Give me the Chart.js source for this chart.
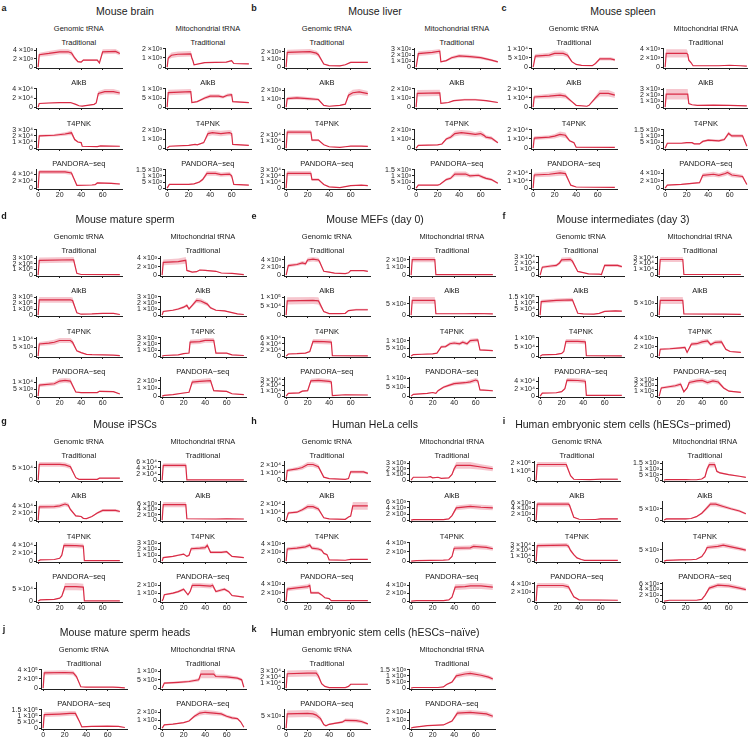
<!DOCTYPE html>
<html>
<head>
<meta charset="utf-8">
<script src="https://cdn.jsdelivr.net/npm/chart.js@4.4.1/dist/chart.umd.min.js"></script>
<style>
  body { margin: 0; background: #fff; }
  #fig { position: relative; width: 748px; height: 739px; overflow: hidden;
         font-family: "Liberation Sans", Arial, sans-serif; color: #1a1a1a; }
  .t { position: absolute; transform: translate(-50%, -50%); white-space: nowrap; line-height: 1; }
  canvas { position: absolute; }
</style>
</head>
<body>
<div id="fig"></div>
<script>
// Each series: e = power of ten of the values, ticks = y tick values,
// pts = [position, mean, half width of the shaded band]
const rowsFull = ["Traditional", "AlkB", "T4PNK", "PANDORA\u2212seq"];
const rowsShort = ["Traditional", "PANDORA\u2212seq"];
const xTicks = [0, 20, 40, 60];

// a  Mouse brain
const brainGenomic = [
  { e: 3, ticks: [0, 2, 4], pts: [[0,0,0],[1,3.0,0.5],[10,3.3,0.6],[20,3.7,0.6],[28,3.7,0.6],[31,3.4,0.6],[34,2.2,0.4],[37,1.3,0.2],[40,1.2,0.2],[42,1.7,0.2],[55,1.7,0.2],[57,1.0,0.2],[60,3.7,0.6],[72,3.8,0.6],[76,3.3,0.5]] },
  { e: 4, ticks: [0, 2, 4], pts: [[0,0,0],[1,0.8,0.1],[10,0.9,0.1],[20,1.0,0.1],[30,1.0,0.1],[35,0.6,0.1],[38,0.3,0.05],[41,0.2,0.05],[52,0.6,0.1],[54,0.9,0.1],[56,3.0,0.5],[62,3.4,0.6],[70,3.4,0.6],[76,3.1,0.5]] },
  { e: 4, ticks: [0, 1, 2, 3], pts: [[0,0,0],[1,2.0,0.2],[15,2.1,0.2],[25,2.3,0.3],[28,2.4,0.3],[31,2.5,0.4],[34,1.4,0.2],[37,1.0,0.1],[40,0.9,0.1],[41,0.3,0.05],[55,0.25,0.05],[58,0.35,0.05],[76,0.3,0.05]] },
  { e: 4, ticks: [0, 2, 4], pts: [[0,0,0],[1,4.7,0.6],[25,4.7,0.6],[31,4.4,0.6],[36,0.8,0.1],[50,0.9,0.1],[53,1.0,0.1],[55,1.5,0.2],[68,1.4,0.2],[76,1.2,0.2]] }
];
const brainMito = [
  { e: 3, ticks: [0, 1, 2], pts: [[0,0,0],[1,1.0,0.2],[4,1.3,0.3],[10,1.4,0.3],[22,1.45,0.3],[23,1.0,0.2],[24,0.7,0.1],[25,0.25,0.05],[35,0.5,0.05],[55,0.55,0.05],[60,0.7,0.1],[62,0.4,0.05],[76,0.35,0.05]] },
  { e: 2, ticks: [0, 5, 10], pts: [[0,0,0],[1,8,1.5],[22,8.5,1.5],[23,2.5,0.3],[28,3.0,0.3],[35,5.0,0.8],[40,6.0,1.0],[48,6.0,1.0],[52,5.5,0.8],[56,6.5,1.0],[60,6.8,1.0],[61,3.0,0.3],[76,2.5,0.3]] },
  { e: 3, ticks: [0, 1, 2], pts: [[0,0,0],[2,0.2,0.03],[20,0.3,0.05],[26,0.4,0.05],[28,0.35,0.05],[34,0.6,0.1],[38,1.6,0.3],[42,1.7,0.3],[50,1.6,0.3],[58,1.7,0.3],[60,1.6,0.3],[61,0.4,0.05],[76,0.3,0.05]] },
  { e: 2, ticks: [0, 5, 10, 15], pts: [[0,0,0],[2,3,0.3],[20,3,0.4],[25,3.5,0.4],[30,5,0.8],[33,7,1],[37,12,2],[45,12,2],[50,11,1.8],[58,11.5,1.8],[60,10,1.5],[62,3,0.4],[76,2.5,0.3]] }
];

// b  Mouse liver
const liverGenomic = [
  { e: 3, ticks: [0, 1, 2], pts: [[0,0,0],[1,1.9,0.35],[22,2.0,0.35],[28,1.8,0.3],[30,1.6,0.3],[35,0.4,0.05],[40,0.2,0.03],[50,0.15,0.03],[55,0.3,0.05],[60,0.6,0.08],[76,0.6,0.08]] },
  { e: 3, ticks: [0, 1, 2], pts: [[0,0,0],[1,1.0,0.2],[10,1.1,0.2],[20,1.0,0.2],[30,0.9,0.15],[35,0.2,0.03],[40,0.1,0.02],[50,0.2,0.03],[55,0.35,0.05],[58,1.4,0.3],[62,1.7,0.35],[68,1.8,0.35],[76,1.6,0.3]] },
  { e: 4, ticks: [0, 1, 2], pts: [[0,0,0],[1,2.4,0.35],[23,2.4,0.35],[24,1.2,0.15],[30,1.2,0.15],[35,0.5,0.05],[40,0.2,0.03],[50,0.1,0.02],[55,0.2,0.03],[60,0.3,0.04],[70,0.3,0.04],[76,0.25,0.04]] },
  { e: 4, ticks: [0, 1, 2, 3], pts: [[0,0,0],[1,2.4,0.4],[23,2.4,0.4],[24,1.4,0.2],[30,1.4,0.2],[35,0.6,0.08],[40,0.2,0.03],[50,0.1,0.02],[60,0.4,0.05],[70,0.5,0.06],[76,0.4,0.05]] }
];
const liverMito = [
  { e: 2, ticks: [0, 1, 2, 3], pts: [[0,0,0],[2,2.3,0.4],[15,2.5,0.4],[22,2.7,0.4],[23,0.9,0.1],[28,1.1,0.15],[33,1.6,0.25],[40,1.9,0.3],[50,1.8,0.3],[60,1.6,0.25],[70,1.2,0.2],[76,0.9,0.15]] },
  { e: 2, ticks: [0, 1, 2], pts: [[0,0,0],[1,1.5,0.35],[22,1.55,0.35],[23,0.4,0.05],[30,0.5,0.06],[35,0.7,0.08],[45,0.8,0.1],[55,0.8,0.1],[65,0.7,0.08],[76,0.5,0.06]] },
  { e: 3, ticks: [0, 1, 2], pts: [[0,0,0],[2,0.3,0.05],[20,0.35,0.05],[24,0.45,0.06],[28,1.0,0.15],[32,1.2,0.2],[36,1.6,0.3],[42,1.7,0.3],[50,1.6,0.3],[55,1.5,0.25],[60,1.6,0.3],[63,1.4,0.25],[65,1.2,0.2],[70,1.1,0.2],[76,0.6,0.1]] },
  { e: 2, ticks: [0, 5, 10, 15], pts: [[0,0,0],[2,2.5,0.3],[20,2.5,0.3],[22,3,0.4],[28,7,1],[32,8,1.2],[36,11.5,2],[46,11.5,2],[50,10,1.5],[58,10.5,1.5],[62,9,1.3],[65,8,1.2],[70,7,1],[76,4,0.6]] }
];

// c  Mouse spleen
const spleenGenomic = [
  { e: 3, ticks: [0, 5, 10], pts: [[0,0,0],[2,6,1.2],[15,6.5,1.3],[20,7.5,1.5],[28,7.5,1.5],[32,6.5,1.3],[36,3,0.5],[40,1.5,0.2],[45,1,0.15],[55,0.8,0.1],[58,2,0.3],[62,4.5,0.9],[72,4.5,0.9],[76,4,0.8]] },
  { e: 4, ticks: [0, 1, 2], pts: [[0,0,0],[1,1.1,0.2],[15,1.2,0.25],[25,1.3,0.3],[30,1.2,0.25],[36,0.6,0.1],[40,0.2,0.03],[50,0.1,0.02],[52,0.2,0.03],[58,1.0,0.2],[62,1.5,0.35],[70,1.5,0.35],[76,1.3,0.3]] },
  { e: 4, ticks: [0, 1, 2], pts: [[0,0,0],[1,1.1,0.2],[15,1.2,0.2],[20,1.3,0.25],[25,1.5,0.3],[30,1.4,0.3],[34,0.8,0.1],[38,0.6,0.08],[40,0.1,0.02],[76,0.08,0.02]] },
  { e: 4, ticks: [0, 1, 2], pts: [[0,0,0],[1,1.8,0.3],[15,1.9,0.35],[25,2.1,0.4],[30,2.0,0.35],[35,0.4,0.05],[40,0.15,0.02],[76,0.1,0.02]] }
];
const spleenMito = [
  { e: 3, ticks: [0, 2, 4], pts: [[0,0,0],[1,3.0,0.9],[20,3.0,0.9],[21,2.8,0.6],[22,1.5,0.3],[24,1.0,0.2],[26,0.3,0.05],[50,0.3,0.05],[60,0.4,0.06],[70,0.3,0.05],[76,0.2,0.04]] },
  { e: 3, ticks: [0, 1, 2, 3], pts: [[0,0,0],[1,2.2,0.9],[21,2.2,0.9],[22,0.6,0.1],[25,0.4,0.05],[30,0.3,0.05],[45,0.35,0.05],[60,0.3,0.05],[76,0.2,0.04]] },
  { e: 2, ticks: [0, 5, 10, 15], pts: [[0,0,0],[2,4,0.5],[15,4,0.5],[20,4.5,0.6],[25,4.5,0.6],[27,3.5,0.5],[32,3.5,0.5],[35,5.5,0.8],[40,6.5,1],[50,6,1],[55,7,1],[59,12,1.5],[62,10,1.3],[72,10,1.3],[76,1.5,0.3]] },
  { e: 2, ticks: [0, 2, 4], pts: [[0,0,0],[2,0.8,0.1],[15,1.0,0.12],[25,1.3,0.15],[32,1.5,0.2],[35,3.5,0.6],[45,3.8,0.7],[50,3.5,0.6],[56,4.0,0.7],[58,4.3,0.7],[62,3.6,0.6],[72,3.2,0.5],[76,1.0,0.2]] }
];

// d  Mouse mature sperm
const spermGenomic = [
  { e: 5, ticks: [0, 1, 2, 3], pts: [[0,0,0],[1,2.6,0.5],[33,2.7,0.5],[36,0.3,0.05],[40,0.1,0.02],[76,0.08,0.02]] },
  { e: 5, ticks: [0, 1, 2, 3], pts: [[0,0,0],[1,2.6,0.5],[30,2.6,0.5],[32,2.5,0.5],[36,0.4,0.06],[40,0.15,0.03],[50,0.2,0.04],[60,0.3,0.05],[70,0.3,0.05],[76,0.1,0.02]] },
  { e: 3, ticks: [0, 5, 10], pts: [[0,0,0],[1,7,1.2],[10,7.5,1.3],[15,8,1.4],[20,9,1.5],[30,9,1.5],[32,8,1.3],[36,3,0.5],[40,2,0.3],[45,1,0.15],[50,0.8,0.1],[60,0.7,0.1],[70,0.6,0.1],[76,0.3,0.05]] },
  { e: 3, ticks: [0, 5, 10], pts: [[0,0,0],[1,8,1.3],[15,9,1.5],[20,11,1.8],[25,11.5,1.8],[30,11,1.8],[35,3,0.5],[40,2.5,0.4],[55,2.6,0.4],[57,3.5,0.5],[70,3.3,0.5],[76,1.5,0.2]] }
];
const spermMito = [
  { e: 3, ticks: [0, 2, 4], pts: [[0,0,0],[1,3.0,0.7],[15,3.2,0.7],[22,3.5,0.8],[23,1.1,0.15],[28,0.7,0.1],[32,0.8,0.1],[35,1.2,0.15],[40,1.1,0.15],[50,0.9,0.1],[55,0.5,0.08],[65,0.4,0.06],[76,0.1,0.02]] },
  { e: 3, ticks: [0, 1, 2, 3], pts: [[0,0,0],[1,0.6,0.1],[10,0.8,0.1],[15,1.0,0.15],[20,1.3,0.2],[23,1.6,0.25],[25,1.0,0.15],[28,1.6,0.25],[32,2.4,0.4],[36,2.3,0.4],[42,1.8,0.3],[45,1.2,0.2],[50,0.8,0.1],[58,0.7,0.1],[65,0.4,0.06],[70,0.2,0.04],[76,0.1,0.02]] },
  { e: 2, ticks: [0, 1, 2, 3], pts: [[0,0,0],[2,0.1,0.02],[15,0.2,0.03],[20,0.4,0.05],[25,0.5,0.06],[26,2.3,0.4],[35,2.4,0.4],[40,2.6,0.4],[48,2.6,0.4],[50,0.5,0.06],[60,0.5,0.06],[65,0.2,0.03],[76,0.1,0.02]] },
  { e: 3, ticks: [0, 1, 2], pts: [[0,0,0],[2,0.1,0.02],[10,0.2,0.03],[20,0.4,0.05],[25,0.5,0.06],[28,1.8,0.3],[35,1.9,0.3],[45,2.0,0.35],[48,0.7,0.1],[55,0.65,0.1],[60,0.6,0.08],[65,0.3,0.05],[76,0.2,0.03]] }
];

// e  Mouse MEFs (day 0)
const mefGenomic = [
  { e: 3, ticks: [0, 2, 4], pts: [[0,0,0],[2,2.5,0.4],[10,2.8,0.4],[15,3.2,0.5],[18,3.0,0.5],[20,4.0,0.6],[25,4.2,0.6],[30,4.0,0.6],[31,3.6,0.5],[35,1.0,0.15],[40,0.8,0.1],[45,0.5,0.06],[55,0.4,0.05],[58,0.6,0.08],[60,1.2,0.15],[72,1.2,0.15],[76,1.0,0.12]] },
  { e: 4, ticks: [0, 5, 10], pts: [[0,0,0],[1,8,2],[25,8.2,2],[30,8,2],[35,2,0.4],[40,0.8,0.1],[50,0.8,0.1],[55,1,0.15],[58,2.5,0.4],[65,3,0.5],[76,3,0.5]] },
  { e: 4, ticks: [0, 2, 4, 6], pts: [[0,0,0],[2,0.7,0.1],[10,0.8,0.1],[18,1,0.15],[22,1.5,0.2],[25,4.8,0.8],[35,4.7,0.8],[42,4.6,0.8],[43,0.15,0.02],[76,0.1,0.02]] },
  { e: 4, ticks: [0, 1, 2, 3], pts: [[0,0,0],[2,0.5,0.08],[12,0.6,0.1],[15,0.9,0.12],[20,1.0,0.15],[23,2.8,0.4],[30,2.9,0.45],[40,2.7,0.4],[42,2.6,0.4],[43,0.1,0.02],[55,0.25,0.04],[76,0.2,0.03]] }
];
const mefMito = [
  { e: 3, ticks: [0, 1, 2], pts: [[0,0,0],[1,2.0,0.35],[22,2.0,0.35],[23,0.05,0.01],[76,0.05,0.01]] },
  { e: 2, ticks: [0, 5], pts: [[0,0,0],[1,6.5,1.5],[22,6.5,1.5],[23,0.6,0.1],[50,0.6,0.1],[60,0.7,0.1],[76,0.5,0.08]] },
  { e: 1, ticks: [0, 5, 10], pts: [[0,0,0],[2,1,0.15],[10,1.2,0.15],[20,1.5,0.2],[24,1.9,0.25],[28,6,0.8],[32,6.2,0.8],[36,8,1.1],[40,8.5,1.2],[45,8,1.1],[48,9,1.2],[52,8,1.1],[55,10,1.3],[62,10.5,1.3],[64,4,0.5],[76,3.5,0.4]] },
  { e: 1, ticks: [0, 5, 10], pts: [[0,0,0],[2,1,0.15],[15,1.5,0.2],[20,2,0.3],[23,1.5,0.2],[25,3,0.4],[30,5,0.7],[35,6,0.8],[40,7,1],[50,7.5,1],[55,8,1.1],[60,9,1.2],[62,8.5,1.2],[64,3.5,0.5],[76,3,0.4]] }
];

// f  Mouse intermediates (day 3)
const day3Genomic = [
  { e: 4, ticks: [0, 1, 2, 3], pts: [[0,0,0],[2,1.3,0.2],[10,1.5,0.25],[15,1.6,0.25],[18,2.0,0.3],[20,2.5,0.4],[28,2.6,0.4],[30,2.3,0.35],[35,0.6,0.08],[40,0.4,0.05],[45,0.2,0.03],[55,0.15,0.02],[57,0.1,0.02],[60,1.6,0.25],[72,1.6,0.25],[76,1.4,0.2]] },
  { e: 4, ticks: [0, 5, 10, 15], pts: [[0,0,0],[1,11,1.5],[15,12,1.6],[30,12.5,1.6],[35,1.5,0.2],[40,1,0.15],[50,0.8,0.1],[55,1.5,0.2],[60,3,0.4],[70,3.5,0.5],[76,3.2,0.4]] },
  { e: 4, ticks: [0, 5, 10], pts: [[0,0,0],[2,0.7,0.1],[15,1,0.15],[20,1.5,0.2],[22,2.5,0.3],[24,8,1.3],[35,8,1.3],[42,7.8,1.3],[43,0.2,0.03],[76,0.15,0.02]] },
  { e: 4, ticks: [0, 2, 4], pts: [[0,0,0],[2,0.8,0.1],[15,0.9,0.12],[20,1.2,0.15],[23,2,0.3],[25,4.3,0.6],[35,4.2,0.6],[42,4.0,0.6],[43,0.2,0.03],[76,0.2,0.03]] }
];
const day3Mito = [
  { e: 4, ticks: [0, 1, 2, 3], pts: [[0,0,0],[1,2.7,0.45],[22,2.7,0.45],[23,0.1,0.02],[76,0.1,0.02]] },
  { e: 3, ticks: [0, 5], pts: [[0,0,0],[1,6.3,1.5],[22,6.3,1.5],[23,0.5,0.08],[60,0.4,0.06],[76,0.3,0.05]] },
  { e: 2, ticks: [0, 2, 4], pts: [[0,0,0],[1,1.5,0.2],[10,1.6,0.2],[20,1.8,0.25],[24,1.9,0.25],[26,0.8,0.1],[30,2.6,0.4],[35,2.7,0.4],[40,3.1,0.45],[45,3.3,0.5],[48,2.5,0.35],[52,3.0,0.45],[58,3.1,0.45],[62,1.5,0.2],[66,1.0,0.12],[76,0.8,0.1]] },
  { e: 2, ticks: [0, 1, 2, 3], pts: [[0,0,0],[2,1.5,0.2],[15,1.9,0.3],[20,2.2,0.35],[23,0.8,0.1],[26,1.5,0.2],[28,2.5,0.4],[35,2.8,0.4],[40,2.9,0.45],[45,2.5,0.4],[50,2.8,0.4],[55,2.6,0.4],[60,1.5,0.2],[65,0.9,0.12],[76,0.7,0.1]] }
];

// g  Mouse iPSCs
const ipscGenomic = [
  { e: 4, ticks: [0, 5], pts: [[0,0,0],[1,6.5,1],[20,6.5,1],[25,6.3,1],[30,5.5,0.9],[35,1,0.15],[38,0.3,0.05],[55,0.3,0.05],[57,0.8,0.2],[76,0.8,0.2]] },
  { e: 4, ticks: [0, 2, 4], pts: [[0,0,0],[1,3.7,0.6],[15,3.8,0.6],[20,4.0,0.6],[25,4.5,0.6],[28,4.2,0.6],[30,3.0,0.4],[35,1.2,0.2],[40,1.0,0.15],[42,0.5,0.08],[45,0.4,0.06],[50,1.0,0.15],[55,2.0,0.3],[60,2.7,0.4],[72,2.7,0.4],[76,2.4,0.35]] },
  { e: 4, ticks: [0, 2, 4], pts: [[0,0,0],[2,0.3,0.05],[15,0.4,0.06],[20,0.7,0.1],[22,1.5,0.2],[24,4.0,0.6],[35,3.9,0.6],[42,3.8,0.6],[43,0.1,0.02],[76,0.1,0.02]] },
  { e: 4, ticks: [0, 5], pts: [[0,0,0],[2,0.5,0.08],[15,0.7,0.1],[20,1.2,0.2],[22,2,0.3],[25,6,1.5],[35,6,1.5],[42,5.8,1.4],[43,0.1,0.02],[76,0.1,0.02]] }
];
const ipscMito = [
  { e: 4, ticks: [0, 2, 4, 6], pts: [[0,0,0],[1,4.8,0.7],[22,4.8,0.7],[23,0.1,0.02],[76,0.1,0.02]] },
  { e: 3, ticks: [0, 2, 4, 6], pts: [[0,0,0],[1,5.8,1],[22,5.8,1],[23,0.5,0.08],[50,0.4,0.06],[60,0.5,0.08],[76,0.4,0.06]] },
  { e: 2, ticks: [0, 1, 2, 3], pts: [[0,0,0],[1,0.6,0.1],[10,0.8,0.1],[15,1.0,0.15],[20,1.2,0.15],[23,0.8,0.1],[25,1.0,0.15],[27,2.1,0.3],[35,2.2,0.3],[40,2.3,0.35],[42,2.7,0.4],[45,1.5,0.2],[55,1.5,0.2],[60,1.6,0.2],[65,0.8,0.1],[76,0.6,0.08]] },
  { e: 2, ticks: [0, 1, 2], pts: [[0,0,0],[1,0.3,0.05],[2,0.8,0.1],[10,1.0,0.12],[15,1.2,0.15],[20,1.5,0.2],[24,0.8,0.1],[26,1.2,0.15],[28,2.0,0.3],[35,2.0,0.3],[45,1.9,0.3],[47,2.0,0.3],[50,1.2,0.15],[55,1.4,0.2],[58,1.5,0.2],[62,1.2,0.15],[65,0.7,0.1],[76,0.5,0.08]] }
];

// h  Human HeLa cells
const helaGenomic = [
  { e: 4, ticks: [0, 1, 2], pts: [[0,0,0],[1,1.3,0.2],[10,1.5,0.25],[15,1.7,0.3],[20,2.1,0.35],[25,2.1,0.35],[30,1.8,0.3],[35,0.4,0.05],[40,0.2,0.03],[55,0.1,0.02],[58,0.2,0.03],[60,1.1,0.2],[72,1.1,0.2],[76,0.9,0.15]] },
  { e: 4, ticks: [0, 1, 2], pts: [[0,0,0],[2,0.9,0.15],[10,1.0,0.15],[15,1.3,0.2],[20,1.7,0.3],[25,1.7,0.3],[30,1.4,0.25],[35,0.3,0.05],[40,0.15,0.02],[55,0.1,0.02],[58,0.4,0.06],[60,0.5,0.08],[62,1.8,0.5],[76,1.8,0.5]] },
  { e: 3, ticks: [0, 2, 4], pts: [[0,0,0],[1,2.8,0.4],[10,3.0,0.4],[18,3.3,0.45],[22,3.7,0.5],[24,3.0,0.4],[30,2.8,0.4],[33,2.5,0.35],[35,1.8,0.25],[38,1.5,0.2],[40,0.3,0.05],[55,0.2,0.03],[60,0.4,0.05],[76,0.4,0.05]] },
  { e: 3, ticks: [0, 2, 4], pts: [[0,0,0],[1,2.9,0.5],[10,3.2,0.5],[20,3.5,0.55],[22,3.8,0.6],[23,2.0,0.3],[30,2.0,0.3],[33,1.5,0.2],[36,0.8,0.1],[40,0.6,0.08],[42,0.1,0.02],[76,0.1,0.02]] }
];
const helaMito = [
  { e: 3, ticks: [0, 1, 2, 3], pts: [[0,0,0],[2,0.5,0.05],[15,0.5,0.05],[18,0.6,0.06],[20,0.4,0.05],[25,0.5,0.05],[28,0.3,0.04],[35,0.4,0.05],[38,1.0,0.15],[40,2.0,0.4],[42,2.6,0.6],[55,2.6,0.6],[65,2.3,0.5],[76,2.0,0.45]] },
  { e: 3, ticks: [0, 2, 4, 6], pts: [[0,0,0],[2,0.2,0.03],[30,0.2,0.03],[35,0.4,0.06],[38,1.5,0.3],[42,4.0,0.8],[55,4.5,0.8],[65,4.2,0.8],[76,4.0,0.8]] },
  { e: 3, ticks: [0, 2, 4], pts: [[0,0,0],[5,0.1,0.02],[30,0.2,0.03],[35,0.3,0.05],[38,1.0,0.15],[40,2.8,0.5],[55,2.9,0.5],[58,3.2,0.55],[70,3.0,0.5],[76,2.7,0.45]] },
  { e: 3, ticks: [0, 2, 4], pts: [[0,0,0],[5,0.1,0.02],[30,0.1,0.02],[35,0.3,0.05],[38,1.0,0.15],[41,3.5,0.7],[50,3.6,0.7],[55,3.8,0.75],[65,3.8,0.75],[76,3.5,0.7]] }
];

// i  Human embryonic stem cells (primed)
const primedGenomic = [
  { e: 5, ticks: [0, 1, 2], pts: [[0,0,0],[1,1.8,0.3],[28,1.8,0.3],[32,0.5,0.08],[35,0.1,0.02],[50,0.05,0.01],[60,0.1,0.1],[76,0.1,0.12]] },
  { e: 3, ticks: [0, 2, 4, 6], pts: [[0,0,0],[1,5.5,0.8],[30,5.5,0.8],[31,5.2,0.8],[35,1,0.15],[40,0.3,0.05],[55,0.2,0.04],[60,0.4,0.3],[76,0.4,0.3]] },
  { e: 4, ticks: [0, 1, 2, 3], pts: [[0,0,0],[1,2.9,0.4],[28,3.0,0.4],[30,2.8,0.4],[32,2.0,0.3],[35,1.2,0.15],[38,0.6,0.08],[42,0.3,0.04],[45,0.15,0.02],[76,0.15,0.02]] },
  { e: 3, ticks: [0, 2, 4], pts: [[0,0,0],[1,3.6,0.6],[25,3.6,0.6],[30,3.3,0.55],[35,1.0,0.15],[40,0.3,0.05],[76,0.2,0.03]] }
];
const primedMito = [
  { e: 2, ticks: [0, 5, 10, 15], pts: [[0,0,0],[2,0.5,0.5],[20,0.5,0.5],[25,0.3,0.1],[30,0.3,0.1],[35,1,0.2],[38,3,0.5],[40,10,2],[42,14,2.5],[47,14,2.5],[49,8,1],[52,6.5,0.8],[60,5,0.6],[70,3.5,0.4],[76,2.5,0.3]] },
  { e: 2, ticks: [0, 5], pts: [[0,0,0],[2,0.5,0.3],[20,0.5,0.3],[25,0.7,0.1],[30,1.5,0.2],[35,3,0.4],[40,5.5,0.8],[43,7,1],[48,7,1],[55,6,0.8],[62,5,0.6],[70,4,0.5],[76,2.8,0.4]] },
  { e: 2, ticks: [0, 5], pts: [[0,0,0],[2,0.3,0.05],[15,0.5,0.06],[25,0.6,0.08],[30,0.8,0.1],[35,2,0.3],[38,4,0.6],[40,6,0.9],[50,6.5,1],[55,7,1],[60,6.5,1],[70,5.5,0.8],[76,4.8,0.7]] },
  { e: 2, ticks: [0, 2, 4, 6], pts: [[0,0,0],[5,0.3,0.05],[30,0.3,0.05],[35,0.6,0.1],[38,2,0.3],[42,4.5,0.7],[50,5.5,0.8],[60,5.3,0.8],[70,4.5,0.7],[76,4,0.6]] }
];

// j  Mouse mature sperm heads
const headsGenomic = [
  { e: 5, ticks: [0, 2, 4], pts: [[0,0,0],[1,3.3,0.5],[20,3.4,0.5],[28,3.3,0.5],[31,2.5,0.4],[35,0.3,0.05],[40,0.2,0.03],[65,0.2,0.03],[70,0.15,0.02],[76,0.05,0.01]] },
  { e: 4, ticks: [0, 5, 10, 15], pts: [[0,0,0],[1,11,2],[15,11.5,2],[25,12,2],[30,12,2],[34,5,0.8],[36,1,0.15],[45,1.5,0.2],[60,1.6,0.2],[70,1.4,0.2],[76,0.5,0.08]] }
];
const headsMito = [
  { e: 2, ticks: [0, 5, 10], pts: [[0,0,0],[2,3,0.6],[15,3.5,0.7],[25,4,0.8],[34,5,1],[36,8.5,2.5],[48,8.5,2.5],[50,7,1.2],[60,6.8,1.2],[70,6,1],[74,5,0.9],[76,0.5,0.1]] },
  { e: 2, ticks: [0, 1, 2], pts: [[0,0,0],[2,0.4,0.05],[10,0.5,0.06],[20,0.7,0.08],[25,0.9,0.1],[30,1.5,0.2],[35,1.9,0.3],[40,2.0,0.3],[48,1.9,0.3],[55,1.8,0.25],[60,1.5,0.2],[65,1.3,0.2],[70,1.2,0.15],[73,0.8,0.1],[76,0.1,0.02]] }
];

// k  Human embryonic stem cells (naive)
const naiveGenomic = [
  { e: 4, ticks: [0, 1, 2, 3], pts: [[0,0,0],[1,2.6,0.6],[20,2.7,0.6],[28,2.7,0.6],[30,2.2,0.5],[33,0.8,0.15],[36,0.3,0.05],[40,0.1,0.02],[55,0.1,0.02],[58,0.3,0.05],[60,0.7,0.1],[76,0.7,0.1]] },
  { e: 3, ticks: [0, 5], pts: [[0,0,0],[1,6,1.5],[20,6.2,1.5],[25,6,1.5],[28,5.5,1.3],[32,4,0.9],[35,1.5,0.3],[37,1.0,0.2],[40,1.6,0.3],[45,2,0.4],[52,2.5,0.5],[55,3.3,0.8],[65,3.2,0.8],[70,2.8,0.7],[76,1.8,0.4]] }
];
const naiveMito = [
  { e: 2, ticks: [0, 5, 10, 15], pts: [[0,0,0],[2,0.5,0.1],[25,0.5,0.1],[30,1,0.15],[33,3,0.5],[38,5,0.8],[42,10,1.8],[50,11.5,2],[55,12,2.2],[65,10.5,1.8],[72,9,1.6],[76,7.5,1.4]] },
  { e: 2, ticks: [0, 1, 2], pts: [[0,0,0],[2,0.1,0.02],[15,0.3,0.04],[30,0.4,0.05],[38,0.9,0.12],[43,1.9,0.3],[55,2.0,0.3],[70,1.8,0.3],[76,1.5,0.25]] }
];

// panel layout: column, title line y, x pixel of position 0 for both plots
const panels = [
  { id: "a", title: "Mouse brain", col: 0, ty: 11, gx: 38, mx: 167, rows: rowsFull, gen: brainGenomic, mito: brainMito },
  { id: "b", title: "Mouse liver", col: 1, ty: 11, gx: 286, mx: 416, rows: rowsFull, gen: liverGenomic, mito: liverMito },
  { id: "c", title: "Mouse spleen", col: 2, ty: 11, gx: 533, mx: 665, rows: rowsFull, gen: spleenGenomic, mito: spleenMito },
  { id: "d", title: "Mouse mature sperm", col: 0, ty: 219, gx: 38, mx: 162, rows: rowsFull, gen: spermGenomic, mito: spermMito },
  { id: "e", title: "Mouse MEFs (day 0)", col: 1, ty: 219, gx: 286, mx: 411, rows: rowsFull, gen: mefGenomic, mito: mefMito },
  { id: "f", title: "Mouse intermediates (day 3)", col: 2, ty: 219, gx: 540, mx: 659, rows: rowsFull, gen: day3Genomic, mito: day3Mito },
  { id: "g", title: "Mouse iPSCs", col: 0, ty: 424, gx: 38, mx: 162, rows: rowsFull, gen: ipscGenomic, mito: ipscMito },
  { id: "h", title: "Human HeLa cells", col: 1, ty: 424, gx: 286, mx: 411, rows: rowsFull, gen: helaGenomic, mito: helaMito },
  { id: "i", title: "Human embryonic stem cells (hESCs\u2212primed)", col: 2, ty: 424, gx: 536, mx: 664, rows: rowsFull, gen: primedGenomic, mito: primedMito },
  { id: "j", title: "Mouse mature sperm heads", col: 0, ty: 632, gx: 43, mx: 162, rows: rowsShort, gen: headsGenomic, mito: headsMito },
  { id: "k", title: "Human embryonic stem cells (hESCs\u2212na\u00efve)", col: 1, ty: 632, gx: 286, mx: 411, rows: rowsShort, gen: naiveGenomic, mito: naiveMito }
];

const colLeft = [0, 250, 500];
const colCenter = [125, 375, 623];
const LINE = "#d92b45";
const BAND = "rgba(234, 120, 138, 0.42)";
const AXIS = "#222";
const FONT = "'Liberation Sans', Arial, sans-serif";

const PLOT_W = 86, PLOT_H = 20, YW = 40, PADT = 8, XH = 12, PADR = 2;
const XMIN = -2, XMAX = 78;
const PX = PLOT_W / (XMAX - XMIN);
const ROW_STEP = 40.3;

const fig = document.getElementById("fig");

function addText(str, x, y, size, bold) {
  const d = document.createElement("div");
  d.className = "t";
  d.textContent = str;
  d.style.left = x + "px";
  d.style.top = y + "px";
  d.style.fontSize = size + "px";
  if (bold) d.style.fontWeight = "bold";
  fig.appendChild(d);
}

const SUP = { "0": "\u2070", "1": "\u00b9", "2": "\u00b2", "3": "\u00b3", "4": "\u2074", "5": "\u2075", "6": "\u2076" };
function sci(v) {
  if (Math.abs(v) < 1e-9) return "0";
  const ex = Math.floor(Math.log10(v) + 1e-9);
  const m = +(v / Math.pow(10, ex)).toFixed(2);
  return m + " \u00d710" + String(ex).split("").map(c => SUP[c]).join("");
}

function makeChart(s, x0, base, isBottom) {
  const cv = document.createElement("canvas");
  cv.width = YW + PLOT_W + PADR;
  cv.height = PADT + PLOT_H + XH;
  cv.style.left = (x0 + XMIN * PX - YW) + "px";
  cv.style.top = (base + 1 - PLOT_H - PADT) + "px";
  fig.appendChild(cv);

  const hi = s.pts.map(p => ({ x: p[0], y: p[1] + p[2] }));
  const lo = s.pts.map(p => ({ x: p[0], y: Math.max(0, p[1] - p[2]) }));
  const mid = s.pts.map(p => ({ x: p[0], y: p[1] }));
  const dataMax = Math.max(...hi.map(d => d.y));
  const yMax = Math.max(dataMax * 1.05, s.ticks[s.ticks.length - 1] * 1.04);

  new Chart(cv.getContext("2d"), {
    type: "line",
    data: {
      datasets: [
        { data: mid, borderColor: LINE, borderWidth: 1.2, pointRadius: 0, fill: false, tension: 0 },
        { data: hi, borderWidth: 0, borderColor: "transparent", pointRadius: 0, fill: false },
        { data: lo, borderWidth: 0, borderColor: "transparent", pointRadius: 0, fill: "-1", backgroundColor: BAND }
      ]
    },
    options: {
      responsive: false,
      animation: false,
      devicePixelRatio: 1,
      events: [],
      layout: { padding: { top: PADT, right: PADR, left: 0, bottom: 0 } },
      plugins: { legend: { display: false }, tooltip: { enabled: false } },
      scales: {
        x: {
          type: "linear",
          min: XMIN,
          max: XMAX,
          afterBuildTicks: sc => { sc.ticks = xTicks.map(v => ({ value: v })); },
          afterFit: sc => { sc.height = XH; },
          grid: { drawOnChartArea: false, drawTicks: true, tickLength: 2, color: AXIS },
          border: { display: true, color: AXIS, width: 1 },
          ticks: { display: isBottom, autoSkip: false, color: AXIS, padding: 0, maxRotation: 0, font: { family: FONT, size: 7 } }
        },
        y: {
          type: "linear",
          bounds: "data",
          min: -0.05 * dataMax,
          max: yMax,
          afterBuildTicks: sc => { sc.ticks = s.ticks.map(v => ({ value: v })); },
          afterFit: sc => { sc.width = YW; },
          grid: { drawOnChartArea: false, drawTicks: true, tickLength: 2, color: AXIS },
          border: { display: true, color: AXIS, width: 1 },
          ticks: {
            autoSkip: false, color: AXIS, padding: 1, font: { family: FONT, size: 7 },
            callback: v => sci(v * Math.pow(10, s.e))
          }
        }
      }
    }
  });
}

panels.forEach(p => {
  const left = colLeft[p.col];
  addText(p.id, left + 4, p.ty - 3, 9, true);
  addText(p.title, colCenter[p.col], p.ty, 10.5, false);
  const gc = p.gx + XMIN * PX + PLOT_W / 2;
  const mc = p.mx + XMIN * PX + PLOT_W / 2;
  addText("Genomic tRNA", gc, p.ty + 18, 7.5, false);
  addText("Mitochondrial tRNA", mc, p.ty + 18, 7.5, false);
  p.rows.forEach((r, i) => {
    const base = p.ty + 56 + ROW_STEP * i;
    const bottom = i === p.rows.length - 1;
    addText(r, gc, p.ty + 32 + ROW_STEP * i, 7.5, false);
    addText(r, mc, p.ty + 32 + ROW_STEP * i, 7.5, false);
    makeChart(p.gen[i], p.gx, base, bottom);
    makeChart(p.mito[i], p.mx, base, bottom);
  });
});
</script>
</body>
</html>
